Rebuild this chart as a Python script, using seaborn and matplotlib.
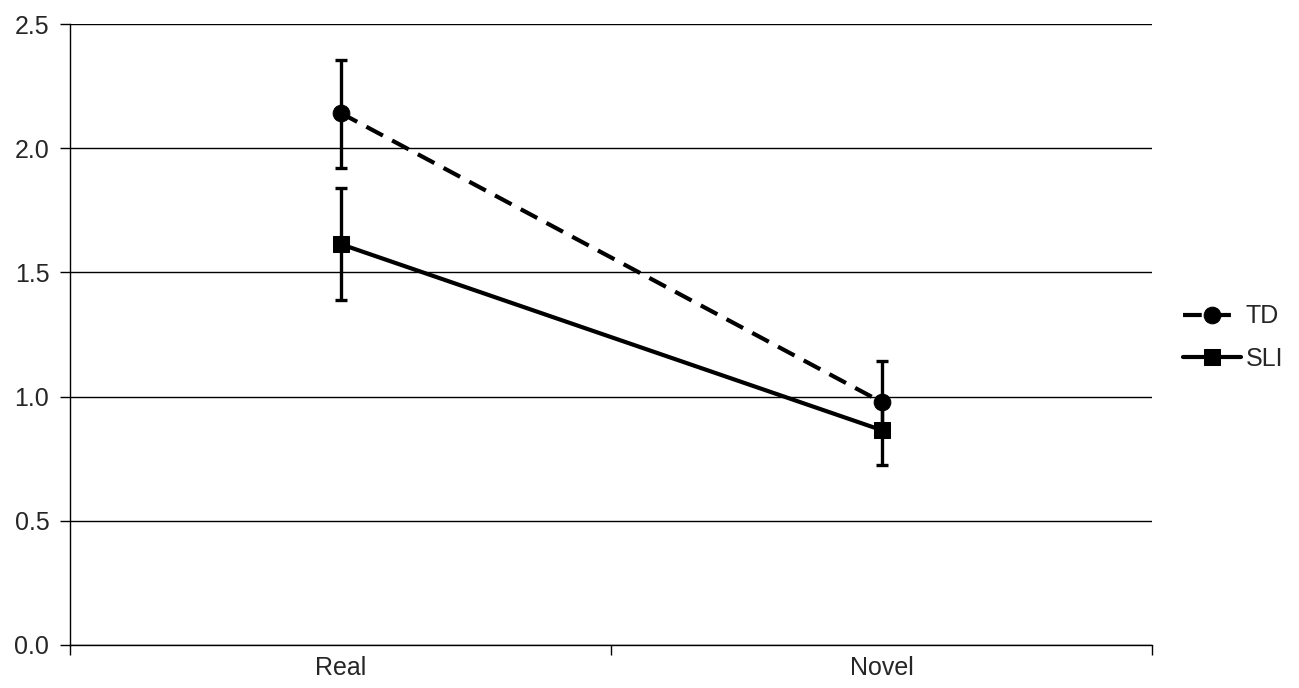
import pandas as pd
import matplotlib.pyplot as plt
import seaborn as sns

conditions = ["Real", "Novel"]
td_mean = [2.142, 0.978]
td_err_low = [0.221, 0.11]
td_err_high = [0.212, 0.166]
sli_mean = [1.614, 0.865]
sli_err_low = [0.223, 0.141]
sli_err_high = [0.224, 0.12]

sns.set_style("white")
plt.rcParams['font.family'] = ['Liberation Sans', 'DejaVu Sans']

df = pd.DataFrame({
    "cond": conditions * 2,
    "x": [0, 1, 0, 1],
    "mean": td_mean + sli_mean,
    "lo": td_err_low + sli_err_low,
    "hi": td_err_high + sli_err_high,
    "group": ["TD"] * 2 + ["SLI"] * 2,
})

fig = plt.figure(figsize=(12.99, 6.88), dpi=100)
ax = fig.add_axes([0.054, 0.0625, 0.833, 0.9025])

styles = {"TD": ((0, (4.5, 2.5)), "o"), "SLI": ("-", "s")}
for grp in ["TD", "SLI"]:
    d = df[df["group"] == grp]
    ax.errorbar(d["x"], d["mean"], yerr=[d["lo"], d["hi"]], fmt="none", ecolor="black",
                elinewidth=2.4, capsize=4, capthick=2.4, zorder=3)
    ls, mk = styles[grp]
    sns.lineplot(data=d, x="x", y="mean", ax=ax, color="black", linestyle=ls,
                 linewidth=3, marker=mk, markersize=12, markeredgecolor="black",
                 label=grp, zorder=4)

ax.set_xlim(-0.5, 1.5)
ax.set_ylim(0, 2.5)
yt = [0, 0.5, 1.0, 1.5, 2.0, 2.5]
ax.set_yticks(yt)
ax.set_yticklabels([f"{v:.1f}" for v in yt], fontsize=18)
ax.set_xticks([-0.5, 0.5, 1.5])
ax.set_xticklabels([])
for i, c in enumerate(conditions):
    ax.text(i, -0.094, c, ha="center", va="center", fontsize=18)
ax.set_xlabel("")
ax.set_ylabel("")
ax.yaxis.grid(True, color="black", linewidth=1)
ax.set_axisbelow(True)
ax.tick_params(axis="both", direction="out", length=7, width=1, color="black", left=True, bottom=True)
ax.tick_params(axis="y", pad=8)
for s in ["top", "right"]:
    ax.spines[s].set_visible(False)
for s in ["left", "bottom"]:
    ax.spines[s].set_color("black")
    ax.spines[s].set_linewidth(1)

ax.legend(loc="center left", bbox_to_anchor=(1.008, 0.495), frameon=False, fontsize=18,
          handlelength=2.3, handletextpad=0.2, labelspacing=0.75)

fig.savefig("out.png", dpi=100)
